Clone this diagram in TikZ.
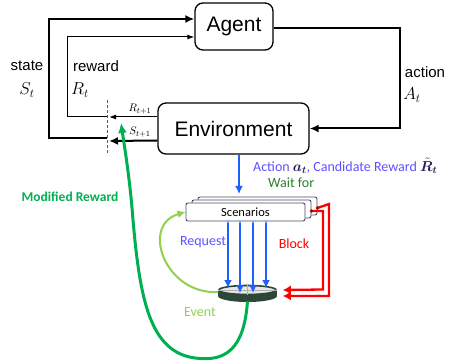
\documentclass[tikz,border=0pt]{standalone}
\usepackage{bm}
\usepackage{fontspec}
\setmainfont{Liberation Sans}
\newfontfamily\calib{Carlito}
\usetikzlibrary{arrows.meta,shapes.geometric}
\definecolor{reqblue}{RGB}{30,95,255}
\definecolor{lblblue}{RGB}{95,80,255}
\definecolor{waitgreen}{RGB}{45,125,45}
\definecolor{modgreen}{RGB}{0,176,80}
\definecolor{evgreen}{RGB}{146,208,80}
\definecolor{diskc}{RGB}{45,70,55}
\definecolor{boxc}{RGB}{70,78,95}
\tikzset{
  rlbox/.style={draw, line width=1.3pt, rounded corners=8pt, font=\fontsize{21}{24}\selectfont},
  scenbox/.style={draw=boxc, fill=white, line width=0.9pt, rounded corners=2pt,
    minimum width=119pt, minimum height=18pt, inner sep=0pt},
  thickarr/.style={line width=2pt, -{Latex[length=9pt,width=8pt]}},
  thinarr/.style={line width=1pt, -{Latex[length=7pt,width=5pt]}},
  lbl/.style={font=\fontsize{15}{18}\selectfont},
  sym/.style={font=\fontsize{17}{20}\selectfont},
  clbl/.style={font=\calib\fontsize{14}{17}\selectfont}
}
\begin{document}
\begin{tikzpicture}[x=1pt, y=-1pt]
  \useasboundingbox (0,0) rectangle (449,363);

  % Agent und Environment
  \node[rlbox, minimum width=78pt, minimum height=47pt] (agent) at (234,26.5) {Agent};
  \node[rlbox, minimum width=151pt, minimum height=51pt] (env) at (233.5,128.5) {Environment};

  % gestrichelte Linie
  \coordinate (cutT) at (107,100);
  \coordinate (cutB) at (107,155);
  \draw[gray!70!black, densely dashed, line width=0.8pt] (cutT) -- (cutB);

  % state
  \coordinate (sA) at (107,138);
  \coordinate (sB) at (49,138);
  \coordinate (sC) at (49,19);
  \coordinate (sTip) at (109,141);
  \draw[thickarr] ([yshift=-12pt]env.west) -- (sTip);
  \draw[thickarr] (sA) -- (sB) -- (sC) -- ([yshift=7.5pt]agent.west);

  % reward
  \coordinate (rA) at (107,117);
  \coordinate (rB) at (67,117);
  \coordinate (rC) at (67,37);
  \coordinate (rTip) at (109,117);
  \draw[thinarr] ([yshift=11.5pt]env.west) -- (rTip);
  \draw[thinarr] (rA) -- (rB) -- (rC) -- ([yshift=-10.5pt]agent.west);

  % action
  \coordinate (aA) at (400,28);
  \coordinate (aB) at (400,128.5);
  \draw[thickarr] ([yshift=-1.5pt]agent.east) -- (aA) -- (aB) -- (env.east);

  % Beschriftungen
  \node[lbl] (stateL) at (27,66) {state};
  \node[sym] (stateS) at (27,90) {$S_t$};
  \node[lbl] (rewL) at (96,66) {reward};
  \node[sym] (rewR) at (80,90) {$R_t$};
  \node[lbl] (actL) at (425,72) {action};
  \node[sym] (actA) at (412,95) {$A_t$};
  \node[font=\fontsize{11}{13}\selectfont] (rNext) at (140,109) {$R_{t+1}$};
  \node[font=\fontsize{11}{13}\selectfont] (sNext) at (140,132) {$S_{t+1}$};

  % Scenarios
  \node[scenbox] (scenC) at (257.5,206) {};
  \node[scenbox] (scenB) at (251.5,209) {};
  \node[scenbox, font=\calib\fontsize{12.5}{15}\selectfont] (scen) at (245.5,212) {Scenarios};

  \draw[reqblue, line width=2.5pt, -{Latex[length=8pt,width=8pt]}]
    ([xshift=5.5pt]env.south) -- ([xshift=5.5pt]env.south |- 0,194);
  \node[clbl, lblblue, anchor=west, inner sep=0pt] (actionL) at (253,166)
    {Action \textcolor{lblblue!35!black}{$\bm{a_t}$}, Candidate Reward \textcolor{lblblue!35!black}{$\bm{\tilde{R}_t}$}};
  \node[clbl, waitgreen, anchor=west, inner sep=0pt] (waitL) at (268,183) {Wait for};

  % Event-Scheibe
  \fill[diskc] (247.5,296) ellipse[x radius=29.5, y radius=6];
  \fill[diskc] (218,290) rectangle (277,296);
  \node[ellipse, draw=diskc, fill=gray!20, line width=1.6pt, minimum width=57pt,
    minimum height=9pt, inner sep=0pt] (disk) at (247.5,290) {};
  \draw[gray!60, line width=0.5pt] (disk.north) -- (disk.south) (disk.west) -- (disk.east);

  % Request
  \foreach \dx/\dy in {-17.5/-2, -5.5/3, 7.5/3, 20.5/-2}{
    \draw[reqblue, line width=2.3pt, -{Latex[length=8pt,width=8pt]}]
      ([xshift=\dx pt]scen.south) -- ([xshift=\dx pt]scen.south |- 0,290+\dy);
    \fill[reqblue!50] ([xshift=\dx pt]scen.south) circle (1.6pt);
  }
  \node[clbl, lblblue] (reqL) at (203,242) {Request};

  % Block
  \coordinate (bA) at (329,204);
  \coordinate (bB) at (329,296);
  \coordinate (bC) at (323,211);
  \coordinate (bD) at (323,289.5);
  \draw[red, line width=2.3pt, -{Latex[length=8pt,width=9pt]}]
    ([yshift=-2pt]scenC.east) -- (bA) -- (bB) -- ([shift={(6pt,-6pt)}]disk.east);
  \draw[red, line width=2.3pt, -{Latex[length=8pt,width=9pt]}]
    ([yshift=-2pt]scenB.east) -- (bC) -- (bD) -- ([xshift=6pt]disk.east);
  \fill[red!70!black] ([yshift=-2pt]scenC.east) circle (1.8pt);
  \fill[red!70!black] ([yshift=-2pt]scenB.east) circle (1.8pt);
  \node[clbl, red] (blockL) at (294,244) {Block};

  % Event
  \draw[evgreen, line width=2pt, -{Latex[length=8pt,width=8pt]}]
    ([yshift=-2pt]disk.west) .. controls (165,295) and (140,225) .. (scen.west);
  \node[clbl, evgreen] (eventL) at (200,312) {Event};

  % Modified Reward
  \coordinate (mTip) at (121,123);
  \draw[modgreen, line width=3pt, -{Latex[length=10pt,width=9pt]}]
    ([yshift=-6pt]disk.south) .. controls (244,350) and (225,362) .. (195,358)
    .. controls (150,352) and (140,300) .. (133,220)
    .. controls (130,180) and (125,150) .. (mTip);
  \node[clbl, modgreen, font=\calib\bfseries\fontsize{13.5}{16}\selectfont] (modL) at (70,197) {Modified Reward};
\end{tikzpicture}
\end{document}
